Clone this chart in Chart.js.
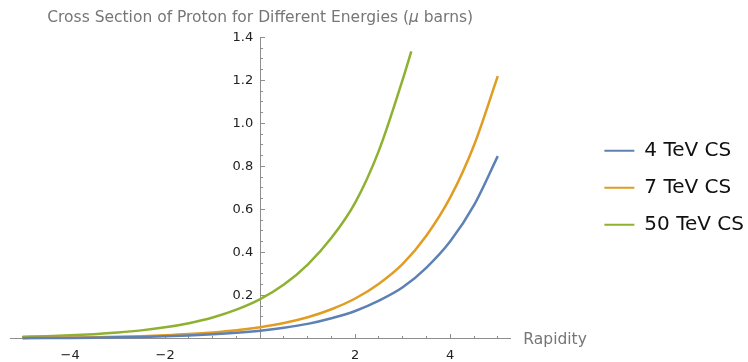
<!DOCTYPE html>
<html>
<head>
<meta charset="utf-8">
<script src="https://cdn.jsdelivr.net/npm/chart.js@4.4.0/dist/chart.umd.min.js"></script>
<style>
  html, body { margin: 0; padding: 0; background: #fff; }
</style>
</head>
<body>
<canvas id="cs" width="748" height="362"></canvas>
<script>
// values
const rapidity = [-5, -4.5, -4, -3.5, -3, -2.5, -2, -1.5, -1, -0.5, 0, 0.5, 1, 1.5, 2, 2.5, 3, 3.5, 4, 4.5, 5];
const cs4TeV = [0.0016, 0.0021, 0.0029, 0.0040, 0.0055, 0.0075, 0.0103, 0.0141, 0.0194, 0.0266, 0.0364, 0.050, 0.068, 0.094, 0.128, 0.176, 0.238, 0.330, 0.452, 0.620, 0.848];
const cs7TeV = [0.0023, 0.0031, 0.0043, 0.0058, 0.0080, 0.0109, 0.0150, 0.0205, 0.0281, 0.0385, 0.0528, 0.072, 0.099, 0.136, 0.186, 0.255, 0.347, 0.479, 0.656, 0.899, 1.22];
const rapidity50 = [-5, -4.5, -4, -3.5, -3, -2.5, -2, -1.5, -1, -0.5, 0, 0.5, 1, 1.5, 2, 2.5, 3, 3.18];
const cs50TeV = [0.0079, 0.0107, 0.0147, 0.0202, 0.0277, 0.0378, 0.0519, 0.0712, 0.0976, 0.134, 0.183, 0.251, 0.344, 0.468, 0.632, 0.875, 1.205, 1.335];
const seriesNames = ["4 TeV CS", "7 TeV CS", "50 TeV CS"];
const xTickLabels = [-4, -2, 2, 4];
const yTickLabels = [0.2, 0.4, 0.6, 0.8, 1.0, 1.2, 1.4];

const FONT = "'DejaVu Sans', sans-serif";
const axisGray = '#8e8e8e';

function pts(xs, ys) {
    return xs.map((x, i) => ({x: x, y: ys[i]}));
}

// minor tick positions
let xMinor = [];
for (let v = -10; v <= 10; v++) xMinor.push(v / 2);
let yMinor = [];
for (let v = 1; v <= 28; v++) yMinor.push(v / 20);

const axisTitles = {
    id: 'axisTitles',
    afterDraw(chart) {
        const ctx = chart.ctx;
        const x0 = chart.scales.x.getPixelForValue(0);
        const y0 = chart.scales.y.getPixelForValue(0);
        ctx.save();
        ctx.fillStyle = '#767676';
        ctx.textBaseline = 'middle';
        // title sits above the y axis
        const a = 'Cross Section of Proton for Different Energies (';
        const m = '\u03bc';
        const b = ' barns)';
        const f = '15.5px ' + FONT;
        ctx.font = f;
        const wa = ctx.measureText(a).width;
        const wb = ctx.measureText(b).width;
        ctx.font = 'italic ' + f;
        const wm = ctx.measureText(m).width;
        let sx = x0 - (wa + wm + wb) / 2;
        ctx.textAlign = 'left';
        ctx.font = f;
        ctx.fillText(a, sx, 18);
        ctx.font = 'italic ' + f;
        ctx.fillText(m, sx + wa, 18);
        ctx.font = f;
        ctx.fillText(b, sx + wa + wm, 18);
        // x axis label at the right end
        ctx.fillText('Rapidity', chart.chartArea.right + 13, y0 + 1);
        ctx.restore();
    }
};

function fmt(v) {
    if (v === 0) return '';
    const s = Number.isInteger(v) && Math.abs(v) >= 2 ? String(Math.abs(v)) : v.toFixed(1);
    return v < 0 ? '\u2212' + s : s;
}

new Chart('cs', {
    type: 'line',
    data: {
        datasets: [{
            label: seriesNames[0],
            data: pts(rapidity, cs4TeV),
            borderColor: '#5E81B5',
            backgroundColor: '#5E81B5'
        }, {
            label: seriesNames[1],
            data: pts(rapidity, cs7TeV),
            borderColor: '#E19C24',
            backgroundColor: '#E19C24'
        }, {
            label: seriesNames[2],
            data: pts(rapidity50, cs50TeV),
            borderColor: '#8FB131',
            backgroundColor: '#8FB131'
        }]
    },
    options: {
        responsive: false,
        animation: false,
        datasets: {
            line: {
                borderWidth: 2.5,
                pointRadius: 0,
                cubicInterpolationMode: 'monotone',
                fill: false,
                clip: false
            }
        },
        layout: { padding: { top: 37, left: 10, bottom: 23.5, right: -6 } },
        plugins: {
            title: { display: false },
            tooltip: { enabled: false },
            legend: {
                position: 'right',
                align: 'center',
                maxWidth: 220,
                labels: {
                    boxWidth: 30,
                    boxHeight: 2,
                    padding: 17,
                    color: '#111',
                    font: { family: FONT, size: 20 },
                    generateLabels: chart => Chart.defaults.plugins.legend.labels.generateLabels(chart)
                        .map(it => Object.assign(it, { lineWidth: 0 }))
                }
            }
        },
        scales: {
            x: {
                type: 'linear',
                min: -5.265, max: 5.265,
                position: { y: 0 },
                afterFit: s => { s.height = 0; },
                afterBuildTicks: s => { s.ticks = xTickLabels.map(v => ({value: v})); },
                grid: { drawOnChartArea: false, tickLength: -5, color: axisGray, tickColor: axisGray },
                border: { color: axisGray, width: 1 },
                ticks: {
                    padding: 14,
                    color: '#222',
                    font: { family: FONT, size: 13 },
                    maxRotation: 0,
                    callback: v => fmt(v)
                }
            },
            x2: {
                type: 'linear',
                axis: 'x',
                min: -5.265, max: 5.265,
                position: { y: 0 },
                afterFit: s => { s.height = 0; },
                afterBuildTicks: s => { s.ticks = xMinor.map(v => ({value: v})); },
                grid: { drawOnChartArea: false, tickLength: -3, color: axisGray, tickColor: axisGray },
                border: { color: axisGray, width: 1 },
                ticks: { display: false }
            },
            // x range is symmetric, so the centred y axis sits at x = 0
            y: {
                type: 'linear',
                min: 0, max: 1.402,
                position: 'center',
                afterFit: s => { s.width = 0; },
                afterBuildTicks: s => { s.ticks = yTickLabels.map(v => ({value: v})); },
                grid: { drawOnChartArea: false, tickLength: -5, color: axisGray, tickColor: axisGray },
                border: { color: axisGray, width: 1 },
                ticks: {
                    padding: 12,
                    color: '#222',
                    font: { family: FONT, size: 13 },
                    callback: v => fmt(v)
                }
            },
            y2: {
                type: 'linear',
                axis: 'y',
                min: 0, max: 1.402,
                position: 'center',
                afterFit: s => { s.width = 0; },
                afterBuildTicks: s => { s.ticks = yMinor.map(v => ({value: v})); },
                grid: { drawOnChartArea: false, tickLength: -3, color: axisGray, tickColor: axisGray },
                border: { color: axisGray, width: 1 },
                ticks: { display: false }
            },
            // empty room between the plot and the legend, where "Rapidity" sits
            gap: {
                type: 'linear',
                axis: 'y',
                position: 'right',
                afterFit: s => { s.width = 77; },
                grid: { display: false },
                border: { display: false },
                ticks: { display: false }
            }
        }
    },
    plugins: [axisTitles]
});
</script>
</body>
</html>
